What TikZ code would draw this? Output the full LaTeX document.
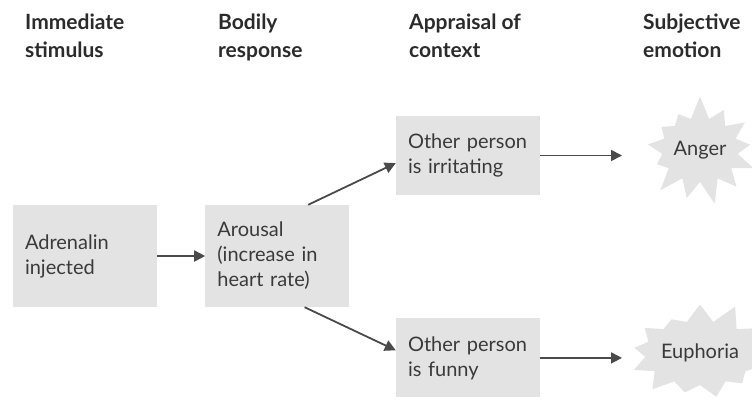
\documentclass[tikz,border=0pt]{standalone}
\usepackage{fontspec}
\setmainfont{Lato}
\usetikzlibrary{arrows.meta,positioning,shapes.symbols}
\definecolor{boxgray}{HTML}{E3E3E3}
\definecolor{inkgray}{HTML}{3A3A3A}
\definecolor{headgray}{HTML}{2B2B2B}
\definecolor{arrowgray}{HTML}{4A4A4A}

\begin{document}
\begin{tikzpicture}[x=1pt, y=-1pt,
    stagebox/.style={fill=boxgray, text width=120pt, inner xsep=12pt, align=left, font=\fontsize{20}{25}\selectfont, text=inkgray},
    heading/.style={anchor=north west, align=left, inner sep=0pt, font=\fontsize{21}{28}\selectfont\bfseries, text=headgray},
    burst/.style={starburst, starburst points=13, starburst point height=24pt, random starburst=#1, fill=boxgray, minimum width=124pt, minimum height=112pt, inner sep=0pt, font=\fontsize{20}{25}\selectfont, text=inkgray},
    arrow/.style={-{Triangle[length=11pt,width=11pt]}, line width=1.8pt, draw=arrowgray}
]

\clip (0,0) rectangle (752,399);

% Column headings
\node[heading] (hstim) at (25,14) {Immediate\\stimulus};
\node[heading] (hbody) at (218,14) {Bodily\\response};
\node[heading] (happr) at (409,14) {Appraisal of\\context};
\node[heading] (hemot) at (643,14) {Subjective\\emotion};

% Stimulus and response
\node[stagebox, minimum height=102pt] (adren) at (85,256) {Adrenalin\\injected};
\node[stagebox, minimum height=102pt, right=48pt of adren] (arousal) {Arousal\\(increase in\\heart rate)};

% Appraisals
\node[stagebox, minimum height=79pt] (irrit) at (468,155.5) {Other person\\is irritating};
\node[stagebox, minimum height=79pt, below=123pt of irrit] (funny) {Other person\\is funny};

% Emotions
\node[burst=7] (anger) at (700,150) {Anger};
\node[burst=31] (euph) at (700,353) {Euphoria};

% Arrows
\draw[arrow] (adren) -- (arousal);
\draw[arrow] (arousal.59) -- (irrit.186);
\draw[arrow] (arousal.-62) -- (funny.174);
\draw[arrow, shorten >=78pt] (irrit.east) -- (irrit.east -| anger.center);
\draw[arrow, shorten >=78pt] (funny.east) -- (funny.east -| euph.center);

\end{tikzpicture}
\end{document}
